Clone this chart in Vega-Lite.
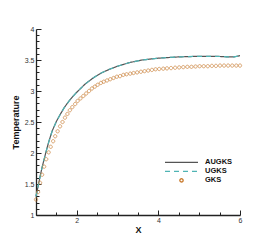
{
  "$schema": "https://vega.github.io/schema/vega-lite/v6.json",
  "width": 204,
  "height": 186,
  "autosize": {"type": "none"},
  "padding": {"left": 36, "top": 29, "right": 33, "bottom": 27},
  "background": "white",
  "config": {
    "view": {"stroke": null},
    "font": "Liberation Sans",
    "axis": {
      "domainColor": "#222222",
      "domainWidth": 1.3,
      "tickColor": "#222222",
      "tickWidth": 1,
      "grid": false,
      "labelFont": "Liberation Sans",
      "labelFontSize": 7,
      "labelColor": "#333333",
      "titleFont": "Liberation Sans",
      "titleFontSize": 9,
      "titleFontWeight": "bold",
      "titleColor": "#111111"
    },
    "legend": {
      "orient": "none",
      "legendX": 128,
      "legendY": 129,
      "title": null,
      "labelFont": "Liberation Sans",
      "labelFontSize": 7.5,
      "labelFontWeight": "bold",
      "labelColor": "#111111",
      "labelOffset": 6,
      "rowPadding": 0,
      "clipHeight": 8.7,
      "symbolSize": 1089,
      "symbolOffset": 0,
      "symbolStrokeWidth": 1.3,
      "symbolFillColor": "transparent",
      "padding": 0
    }
  },
  "datasets": {
    "curves": [
      {"s":"AUGKS","x":1.00,"T":1.30},{"s":"AUGKS","x":1.05,"T":1.46},{"s":"AUGKS","x":1.10,"T":1.62},{"s":"AUGKS","x":1.15,"T":1.77},{"s":"AUGKS","x":1.20,"T":1.90},{"s":"AUGKS","x":1.25,"T":2.03},{"s":"AUGKS","x":1.30,"T":2.15},{"s":"AUGKS","x":1.35,"T":2.26},{"s":"AUGKS","x":1.40,"T":2.36},{"s":"AUGKS","x":1.50,"T":2.51},{"s":"AUGKS","x":1.60,"T":2.63},{"s":"AUGKS","x":1.70,"T":2.74},{"s":"AUGKS","x":1.80,"T":2.83},{"s":"AUGKS","x":1.90,"T":2.91},{"s":"AUGKS","x":2.00,"T":2.98},{"s":"AUGKS","x":2.20,"T":3.11},{"s":"AUGKS","x":2.40,"T":3.21},{"s":"AUGKS","x":2.60,"T":3.29},{"s":"AUGKS","x":2.80,"T":3.35},{"s":"AUGKS","x":3.00,"T":3.40},{"s":"AUGKS","x":3.30,"T":3.46},{"s":"AUGKS","x":3.60,"T":3.50},{"s":"AUGKS","x":4.00,"T":3.53},{"s":"AUGKS","x":4.50,"T":3.55},{"s":"AUGKS","x":5.00,"T":3.56},{"s":"AUGKS","x":5.40,"T":3.56},{"s":"AUGKS","x":5.70,"T":3.55},{"s":"AUGKS","x":5.85,"T":3.55},{"s":"AUGKS","x":6.00,"T":3.57},
      {"s":"UGKS","x":1.00,"T":1.30},{"s":"UGKS","x":1.05,"T":1.46},{"s":"UGKS","x":1.10,"T":1.62},{"s":"UGKS","x":1.15,"T":1.77},{"s":"UGKS","x":1.20,"T":1.90},{"s":"UGKS","x":1.25,"T":2.03},{"s":"UGKS","x":1.30,"T":2.15},{"s":"UGKS","x":1.35,"T":2.26},{"s":"UGKS","x":1.40,"T":2.36},{"s":"UGKS","x":1.50,"T":2.51},{"s":"UGKS","x":1.60,"T":2.63},{"s":"UGKS","x":1.70,"T":2.74},{"s":"UGKS","x":1.80,"T":2.83},{"s":"UGKS","x":1.90,"T":2.91},{"s":"UGKS","x":2.00,"T":2.98},{"s":"UGKS","x":2.20,"T":3.11},{"s":"UGKS","x":2.40,"T":3.21},{"s":"UGKS","x":2.60,"T":3.29},{"s":"UGKS","x":2.80,"T":3.35},{"s":"UGKS","x":3.00,"T":3.40},{"s":"UGKS","x":3.30,"T":3.46},{"s":"UGKS","x":3.60,"T":3.50},{"s":"UGKS","x":4.00,"T":3.53},{"s":"UGKS","x":4.50,"T":3.55},{"s":"UGKS","x":5.00,"T":3.56},{"s":"UGKS","x":5.40,"T":3.56},{"s":"UGKS","x":5.70,"T":3.55},{"s":"UGKS","x":5.85,"T":3.55},{"s":"UGKS","x":6.00,"T":3.57}
    ],
    "gks": [
      {"s":"GKS","x":1.00,"T":1.25},{"s":"GKS","x":1.05,"T":1.37},{"s":"GKS","x":1.10,"T":1.52},{"s":"GKS","x":1.15,"T":1.65},{"s":"GKS","x":1.20,"T":1.78},{"s":"GKS","x":1.25,"T":1.90},{"s":"GKS","x":1.31,"T":2.01},{"s":"GKS","x":1.36,"T":2.10},{"s":"GKS","x":1.42,"T":2.19},{"s":"GKS","x":1.47,"T":2.27},{"s":"GKS","x":1.53,"T":2.35},{"s":"GKS","x":1.59,"T":2.43},{"s":"GKS","x":1.65,"T":2.50},{"s":"GKS","x":1.71,"T":2.57},{"s":"GKS","x":1.77,"T":2.63},{"s":"GKS","x":1.83,"T":2.69},{"s":"GKS","x":1.89,"T":2.74},{"s":"GKS","x":1.96,"T":2.79},{"s":"GKS","x":2.02,"T":2.84},{"s":"GKS","x":2.09,"T":2.88},{"s":"GKS","x":2.16,"T":2.92},{"s":"GKS","x":2.23,"T":2.96},{"s":"GKS","x":2.30,"T":3.00},{"s":"GKS","x":2.37,"T":3.04},{"s":"GKS","x":2.44,"T":3.07},{"s":"GKS","x":2.51,"T":3.10},{"s":"GKS","x":2.59,"T":3.13},{"s":"GKS","x":2.66,"T":3.15},{"s":"GKS","x":2.74,"T":3.17},{"s":"GKS","x":2.82,"T":3.19},{"s":"GKS","x":2.90,"T":3.21},{"s":"GKS","x":2.98,"T":3.23},{"s":"GKS","x":3.06,"T":3.24},{"s":"GKS","x":3.14,"T":3.26},{"s":"GKS","x":3.22,"T":3.27},{"s":"GKS","x":3.31,"T":3.28},{"s":"GKS","x":3.39,"T":3.29},{"s":"GKS","x":3.48,"T":3.30},{"s":"GKS","x":3.57,"T":3.31},{"s":"GKS","x":3.66,"T":3.32},{"s":"GKS","x":3.75,"T":3.33},{"s":"GKS","x":3.84,"T":3.34},{"s":"GKS","x":3.93,"T":3.35},{"s":"GKS","x":4.02,"T":3.355},{"s":"GKS","x":4.12,"T":3.36},{"s":"GKS","x":4.21,"T":3.365},{"s":"GKS","x":4.31,"T":3.37},{"s":"GKS","x":4.41,"T":3.375},{"s":"GKS","x":4.51,"T":3.38},{"s":"GKS","x":4.61,"T":3.385},{"s":"GKS","x":4.71,"T":3.39},{"s":"GKS","x":4.81,"T":3.39},{"s":"GKS","x":4.91,"T":3.395},{"s":"GKS","x":5.01,"T":3.40},{"s":"GKS","x":5.11,"T":3.40},{"s":"GKS","x":5.21,"T":3.40},{"s":"GKS","x":5.31,"T":3.405},{"s":"GKS","x":5.41,"T":3.405},{"s":"GKS","x":5.51,"T":3.41},{"s":"GKS","x":5.61,"T":3.41},{"s":"GKS","x":5.71,"T":3.41},{"s":"GKS","x":5.81,"T":3.41},{"s":"GKS","x":5.91,"T":3.41},{"s":"GKS","x":6.00,"T":3.41}
    ]
  },
  "encoding": {
    "x": {
      "field": "x", "type": "quantitative",
      "scale": {"domain": [1, 6], "nice": false, "zero": false},
      "axis": {
        "title": "X",
        "titlePadding": 2,
        "values": [1, 1.5, 2, 2.5, 3, 3.5, 4, 4.5, 5, 5.5, 6],
        "labelExpr": "datum.value % 2 === 0 ? format(datum.value, '~g') : ''",
        "tickSize": {"condition": {"test": "datum.value % 2 === 0", "value": -5}, "value": -3},
        "labelPadding": 6,
        "labelFlush": false
      }
    },
    "y": {
      "field": "T", "type": "quantitative",
      "scale": {"domain": [1, 4], "nice": false, "zero": false},
      "axis": {
        "title": "Temperature",
        "titlePadding": 4,
        "values": [1,1.1,1.2,1.3,1.4,1.5,1.6,1.7,1.8,1.9,2,2.1,2.2,2.3,2.4,2.5,2.6,2.7,2.8,2.9,3,3.1,3.2,3.3,3.4,3.5,3.6,3.7,3.8,3.9,4],
        "labelExpr": "abs(datum.value*2 - round(datum.value*2)) < 0.001 ? format(datum.value, '~g') : ''",
        "tickSize": {"condition": {"test": "abs(datum.value*2 - round(datum.value*2)) < 0.001", "value": -5}, "value": -3},
        "labelPadding": 7,
        "labelFlush": false
      }
    }
  },
  "layer": [
    {
      "data": {"name": "curves"},
      "transform": [{"filter": "datum.s === 'AUGKS'"}],
      "mark": {"type": "line", "strokeWidth": 1.2},
      "encoding": {
        "color": {"field": "s", "type": "nominal", "scale": {"domain": ["AUGKS", "UGKS", "GKS"], "range": ["#555555", "#4fb4b4", "#c8782a"]},
          "legend": {"encode": {"symbols": {"update": {"stroke": {"scale": "color", "field": "value"}}}}}},
        "strokeDash": {"field": "s", "type": "nominal", "scale": {"domain": ["AUGKS", "UGKS", "GKS"], "range": [[1, 0], [5, 4], [1, 0]]}}
      }
    },
    {
      "data": {"name": "curves"},
      "transform": [{"filter": "datum.s === 'UGKS'"}],
      "mark": {"type": "line", "strokeWidth": 1.2},
      "encoding": {
        "color": {"field": "s", "type": "nominal"},
        "strokeDash": {"field": "s", "type": "nominal"}
      }
    },
    {
      "data": {"name": "gks"},
      "mark": {"type": "point", "filled": false, "strokeWidth": 1, "size": 1089},
      "encoding": {
        "color": {"field": "s", "type": "nominal"},
        "shape": {"field": "s", "type": "nominal", "scale": {"domain": ["AUGKS", "UGKS", "GKS"], "range": ["M-1,0H1", "M-1,0H1", "M-0.1,0A0.1,0.1,0,1,1,0.1,0A0.1,0.1,0,1,1,-0.1,0Z"]}}
      }
    }
  ]
}
